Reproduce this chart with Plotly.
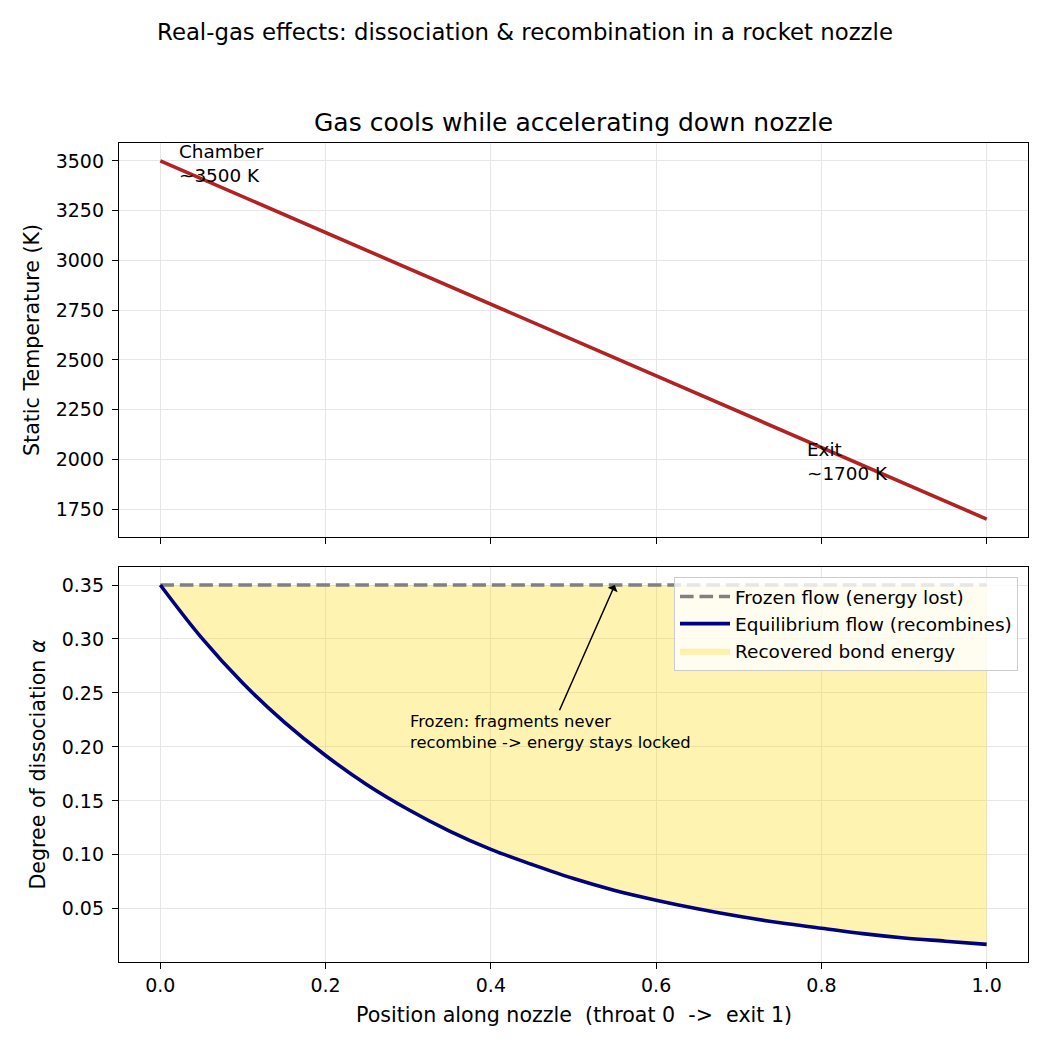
import plotly.graph_objects as go

# ---------------- data ----------------
pos_T = [0.0, 0.25, 0.5, 0.75, 1.0]
temperature_K = [3500, 3050, 2600, 2150, 1700]

pos_alpha = [0.00, 0.05, 0.10, 0.15, 0.20, 0.25, 0.30, 0.35, 0.40, 0.45, 0.50,
             0.55, 0.60, 0.65, 0.70, 0.75, 0.80, 0.85, 0.90, 0.95, 1.00]
alpha_equilibrium = [0.350, 0.301, 0.259, 0.223, 0.192, 0.165, 0.142, 0.122, 0.105, 0.091, 0.078,
                     0.067, 0.058, 0.050, 0.043, 0.037, 0.032, 0.027, 0.023, 0.020, 0.017]
pos_frozen = [0.0, 1.0]
alpha_frozen = [0.35, 0.35]

x_ticks = [0.0, 0.2, 0.4, 0.6, 0.8, 1.0]
T_ticks = [1750, 2000, 2250, 2500, 2750, 3000, 3250, 3500]
alpha_ticks = [0.05, 0.10, 0.15, 0.20, 0.25, 0.30, 0.35]

FONT = "DejaVu Sans"
W = H = 1050
L, R, T, B = 119, 1028, 143, 962
top_ax = (143, 537)
bot_ax = (567, 962)


def py(p):  # pixel y -> paper y
    return (B - p) / (B - T)


def px(p):  # pixel x -> paper x
    return (p - L) / (R - L)


fig = go.Figure()

# top: temperature
fig.add_trace(go.Scatter(x=pos_T, y=temperature_K, mode="lines",
                         line=dict(color="#b22222", width=3.6),
                         showlegend=False, xaxis="x", yaxis="y"))

# bottom: frozen line
fig.add_trace(go.Scatter(x=pos_frozen, y=alpha_frozen, mode="lines",
                         name="Frozen flow (energy lost)",
                         line=dict(color="#808080", width=3.6, dash="13.6px,5.9px"),
                         legendrank=1, legendgroup="a",
                         xaxis="x2", yaxis="y2"))
# fill between
fig.add_trace(go.Scatter(x=pos_alpha, y=alpha_equilibrium, mode="lines",
                         name="Recovered bond energy",
                         fill="tonexty", fillcolor="rgba(255,215,0,0.3)",
                         line=dict(color="rgba(255,215,0,0.3)", width=0, shape="spline"),
                         legendrank=3, legendgroup="c",
                         xaxis="x2", yaxis="y2"))
# equilibrium line
fig.add_trace(go.Scatter(x=pos_alpha, y=alpha_equilibrium, mode="lines",
                         name="Equilibrium flow (recombines)",
                         line=dict(color="#000080", width=3.6, shape="spline"),
                         legendrank=2, legendgroup="b",
                         xaxis="x2", yaxis="y2"))

axis_common = dict(showline=True, mirror=True, linecolor="black", linewidth=1.3,
                   ticks="outside", ticklen=6, tickwidth=1.3, tickcolor="black",
                   showgrid=True, gridcolor="#e6e6e6", gridwidth=1.3,
                   zeroline=False, tickfont=dict(family=FONT, size=19, color="black"))

fig.update_layout(
    width=W, height=H,
    margin=dict(l=L, r=W - R, t=T, b=H - B, pad=0),
    paper_bgcolor="white", plot_bgcolor="white",
    font=dict(family=FONT, size=18, color="black"),
    xaxis=dict(domain=[0, 1], anchor="y", range=[-0.05, 1.05], tickvals=x_ticks,
               showticklabels=False, **axis_common),
    yaxis=dict(domain=[py(top_ax[1]), 1], anchor="x", range=[1610, 3590],
               tickvals=T_ticks, ticklabelstandoff=4, **axis_common),
    xaxis2=dict(domain=[0, 1], anchor="y2", range=[-0.05, 1.05], tickvals=x_ticks,
                tickformat=".1f", **axis_common),
    yaxis2=dict(domain=[0, py(bot_ax[0])], anchor="x2", range=[0.0007, 0.3667],
                tickvals=alpha_ticks, tickformat=".2f", ticklabelstandoff=4, **axis_common),
    legend=dict(x=px(1018), y=py(577), xanchor="right", yanchor="top",
                bgcolor="rgba(255,255,255,0.8)", bordercolor="#cccccc", borderwidth=1,
                font=dict(family=FONT, size=18.5, color="black"),
                itemwidth=50, tracegroupgap=4, traceorder="normal"),
    title=dict(text="Real-gas effects: dissociation & recombination in a rocket nozzle",
               x=0.5, xref="container", xanchor="center",
               y=1 - 32 / H, yref="container", yanchor="middle",
               font=dict(family=FONT, size=22.8, color="black")),
)

annotations = [
    dict(text="Gas cools while accelerating down nozzle", xref="paper", yref="paper",
         x=0.5, y=py(122), xanchor="center", yanchor="middle", showarrow=False,
         font=dict(family=FONT, size=25)),
    dict(text="Static Temperature (K)", xref="paper", yref="paper", x=px(32),
         y=py((top_ax[0] + top_ax[1]) / 2), textangle=-90, xanchor="center",
         yanchor="middle", showarrow=False, font=dict(family=FONT, size=20.6)),
    dict(text="Degree of dissociation <i>α</i>", xref="paper", yref="paper", x=px(37),
         y=py((bot_ax[0] + bot_ax[1]) / 2), textangle=-90, xanchor="center",
         yanchor="middle", showarrow=False, font=dict(family=FONT, size=20.6)),
    dict(text="Position along nozzle \u00a0(throat 0 \u00a0-> \u00a0exit 1)", xref="paper",
         yref="paper", x=0.5, y=py(1015), xanchor="center", yanchor="middle",
         showarrow=False, font=dict(family=FONT, size=20.6)),
    dict(text="Chamber<br>~3500 K", xref="x", yref="y", x=0.02, y=3400,
         xanchor="left", yanchor="bottom", align="left", yshift=-7, showarrow=False,
         font=dict(family=FONT, size=18.4)),
    dict(text="Exit<br>~1700 K", xref="x", yref="y", x=0.78, y=1900,
         xanchor="left", yanchor="bottom", align="left", yshift=-7, showarrow=False,
         font=dict(family=FONT, size=18.4)),
    dict(text="Frozen: fragments never<br>recombine -> energy stays locked",
         xref="x2", yref="y2", x=0.55, y=0.35, axref="x2", ayref="y2",
         ax=0.4716, ay=0.214, xanchor="center", yanchor="middle", align="left",
         showarrow=True, arrowhead=1, arrowsize=1.2, arrowwidth=1.5, arrowcolor="black",
         standoff=0, font=dict(family=FONT, size=16.4)),
]
fig.update_layout(annotations=annotations)

fig.write_html("out.html")
